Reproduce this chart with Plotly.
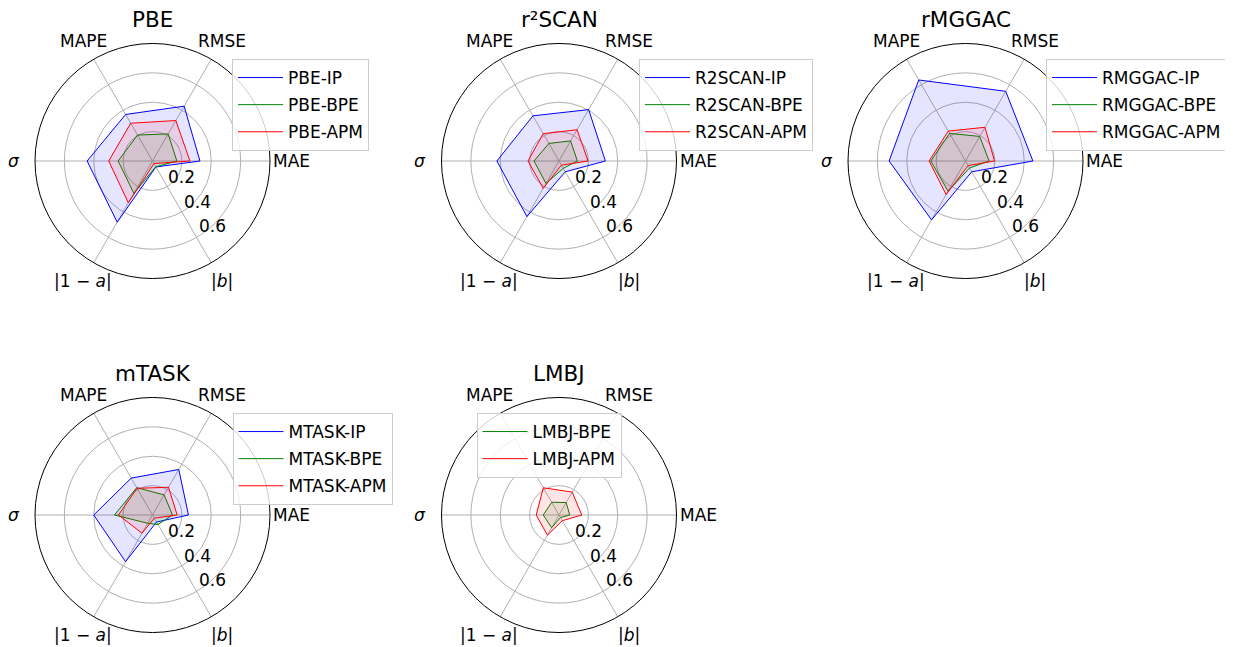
import math
import plotly.graph_objects as go

W, H = 1233, 647
OFF = 8  # default page body margin in the browser
FW, FH = W - OFF, H - OFF

theta = [0, 60, 120, 180, 240, 300]
axis_labels = ["MAE", "RMSE", "MAPE", "<i>σ</i>", "|1 − <i>a</i>|", "|<i>b</i>|"]
radial_ticks = [0.2, 0.4, 0.6]
radial_labels = ["0.2", "0.4", "0.6"]

titles = ["PBE", "r²SCAN", "rMGGAC", "mTASK", "LMBJ"]

PBE_IP = [0.323, 0.431, 0.366, 0.445, 0.481, 0.047]
PBE_BPE = [0.166, 0.213, 0.204, 0.234, 0.254, 0.045]
PBE_APM = [0.255, 0.318, 0.297, 0.298, 0.329, 0.020]

R2SCAN_IP = [0.316, 0.404, 0.355, 0.423, 0.437, 0.085]
R2SCAN_BPE = [0.125, 0.158, 0.138, 0.170, 0.177, 0.058]
R2SCAN_APM = [0.198, 0.246, 0.215, 0.211, 0.215, 0.033]

RMGGAC_IP = [0.459, 0.548, 0.637, 0.520, 0.463, 0.085]
RMGGAC_BPE = [0.161, 0.193, 0.217, 0.236, 0.237, 0.055]
RMGGAC_APM = [0.198, 0.265, 0.235, 0.248, 0.264, 0.036]

MTASK_IP = [0.245, 0.358, 0.290, 0.400, 0.367, 0.055]
MTASK_BPE = [0.136, 0.158, 0.215, 0.259, 0.065, 0.075]
MTASK_APM = [0.168, 0.218, 0.210, 0.232, 0.143, 0.025]

LMBJ_BPE = [0.073, 0.098, 0.100, 0.107, 0.100, 0.020]
LMBJ_APM = [0.155, 0.180, 0.214, 0.155, 0.158, 0.045]

panels = [
    [("PBE-IP", PBE_IP, "blue"), ("PBE-BPE", PBE_BPE, "green"), ("PBE-APM", PBE_APM, "red")],
    [("R2SCAN-IP", R2SCAN_IP, "blue"), ("R2SCAN-BPE", R2SCAN_BPE, "green"), ("R2SCAN-APM", R2SCAN_APM, "red")],
    [("RMGGAC-IP", RMGGAC_IP, "blue"), ("RMGGAC-BPE", RMGGAC_BPE, "green"), ("RMGGAC-APM", RMGGAC_APM, "red")],
    [("MTASK-IP", MTASK_IP, "blue"), ("MTASK-BPE", MTASK_BPE, "green"), ("MTASK-APM", MTASK_APM, "red")],
    [("LMBJ-BPE", LMBJ_BPE, "green"), ("LMBJ-APM", LMBJ_APM, "red")],
]

line_colors = {"blue": "#0000ff", "green": "#008000", "red": "#ff0000"}
fill_colors = {"blue": "rgba(0,0,255,0.1)", "green": "rgba(0,128,0,0.1)", "red": "rgba(255,0,0,0.1)"}

# layout geometry (pixels in the page)
centers = [(152.5, 161), (559, 161), (965.5, 161), (152.5, 515), (559, 515)]
R = 117.5
RMAX = 0.8
SCALE = R / RMAX
LABEL_R = R + 21.5
RLABEL_ANGLE = math.radians(-58)
RLABEL_SHIFT = (13.5, -9.3)
TITLE_DY = 141.5
legend_pos = [(232, 59), (639, 59), (1046, 59), (232.5, 413), (476.5, 413)]

FONT = "DejaVu Sans"


def px(x):
    return (x - OFF) / FW


def py(y):
    return 1 - (y - OFF) / FH


fig = go.Figure()

for i, series in enumerate(panels):
    pid = "polar" if i == 0 else f"polar{i+1}"
    lid = "legend" if i == 0 else f"legend{i+1}"
    for name, vals, c in series:
        # filled area
        fig.add_trace(go.Scatterpolar(
            r=vals + vals[:1], theta=theta + theta[:1],
            mode="lines", fill="toself", name=name,
            line=dict(color="rgba(0,0,0,0)", width=0),
            fillcolor=fill_colors[c], hoverinfo="skip",
            subplot=pid, showlegend=False, legendgroup=name,
        ))
        # outline
        fig.add_trace(go.Scatterpolar(
            r=vals + vals[:1], theta=theta + theta[:1],
            mode="lines", name=name,
            line=dict(color=line_colors[c], width=1),
            subplot=pid, legend=lid, legendgroup=name,
        ))

layout = dict(
    width=FW, height=FH, margin=dict(l=0, r=0, t=0, b=0),
    paper_bgcolor="white", plot_bgcolor="white",
    font=dict(family=FONT, size=17, color="black"),
    showlegend=True,
    annotations=[],
)

for i, (cx, cy) in enumerate(centers):
    pid = "polar" if i == 0 else f"polar{i+1}"
    lid = "legend" if i == 0 else f"legend{i+1}"
    layout[pid] = dict(
        domain=dict(x=[px(cx - R), px(cx + R)], y=[py(cy + R), py(cy - R)]),
        bgcolor="white",
        radialaxis=dict(range=[0, RMAX], tickmode="array", tickvals=radial_ticks,
                        ticktext=radial_labels, showticklabels=False,
                        showline=False, ticks="",
                        gridcolor="#b0b0b0", gridwidth=0.8),
        angularaxis=dict(tickmode="array", tickvals=theta, ticktext=axis_labels,
                         showticklabels=False,
                         direction="counterclockwise", rotation=0,
                         showline=True, linecolor="black", linewidth=1,
                         gridcolor="#b0b0b0", gridwidth=0.8, ticks=""),
    )
    lx, ly = legend_pos[i]
    layout[lid] = dict(x=px(lx), y=py(ly), xanchor="left", yanchor="top",
                       bgcolor="rgba(255,255,255,0.8)", bordercolor="#cccccc", borderwidth=1,
                       itemwidth=45, tracegroupgap=2,
                       font=dict(size=17, family=FONT, color="black"))
    layout["annotations"].append(dict(
        text=titles[i], x=px(cx), y=py(cy - TITLE_DY), xref="paper", yref="paper",
        xanchor="center", yanchor="middle", showarrow=False,
        font=dict(size=21.5, family=FONT, color="black")))
    # angular axis labels
    for t, lab in zip(theta, axis_labels):
        a = math.radians(t)
        layout["annotations"].append(dict(
            text=lab, x=px(cx + LABEL_R * math.cos(a)), y=py(cy - LABEL_R * math.sin(a)),
            xref="paper", yref="paper", xanchor="center", yanchor="middle",
            showarrow=False, font=dict(size=17, family=FONT, color="black")))
    # radial tick labels
    for v, lab in zip(radial_ticks, radial_labels):
        rr = v * SCALE
        layout["annotations"].append(dict(
            text=lab,
            x=px(cx + rr * math.cos(RLABEL_ANGLE) + RLABEL_SHIFT[0]),
            y=py(cy - rr * math.sin(RLABEL_ANGLE) + RLABEL_SHIFT[1]),
            xref="paper", yref="paper", xanchor="center", yanchor="middle",
            showarrow=False, font=dict(size=17, family=FONT, color="black")))

fig.update_layout(**layout)
fig.write_html("out.html")
